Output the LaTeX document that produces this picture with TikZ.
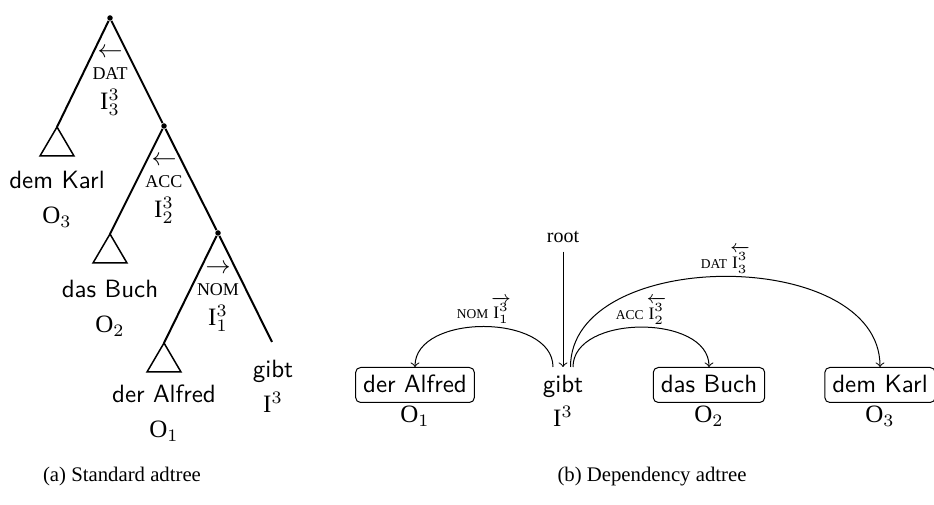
\documentclass[tikz,border=0pt]{standalone}
\usepackage{fontspec}
\setmainfont{Liberation Serif}
\usepackage{amsmath}
\usetikzlibrary{positioning}

\newcommand{\cas}[1]{{\fontsize{7.2}{8}\selectfont #1}}
\newcommand{\depcas}[1]{{\fontsize{5.4}{6}\selectfont #1}}

\begin{document}
\begin{tikzpicture}[x=0.4pt,y=0.4pt]
\useasboundingbox (0,0) rectangle (934,-505);

      % standard adtree
      \begin{scope}[every node/.style={circle,fill,inner sep=0pt,minimum size=2.2pt}]
        \node (r1) at (110,-18) {};
        \node (r2) at (164,-126) {};
        \node (r3) at (218,-233) {};
      \end{scope}
      \coordinate (k) at (57,-127);
      \coordinate (b) at (110,-234);
      \coordinate (a) at (164,-343);
      \coordinate (g) at (272,-342);

      \draw[thick] (k) -- (r1) -- (r2) -- (r3) -- (g);
      \draw[thick] (r2) -- (b);
      \draw[thick] (r3) -- (a);
      \foreach \t in {k,b,a}
        \draw[semithick] (\t) -- ++(-17,-29) -- ++(34,0) -- cycle;

      \begin{scope}[every node/.style={align=center,inner sep=0pt}]
        \node (l1) at (110,-82) {$\leftarrow$\\[-3.5pt]\cas{DAT}\\$\mathrm{I}^3_3$};
        \node (l2) at (164,-190) {$\leftarrow$\\[-3.5pt]\cas{ACC}\\$\mathrm{I}^3_2$};
        \node (l3) at (218,-298) {$\rightarrow$\\[-3.5pt]\cas{NOM}\\$\mathrm{I}^3_1$};
        \node (w3) at (57,-199) {\sffamily dem Karl\\[2pt]$\mathrm{O}_3$};
        \node (w2) at (110,-308) {\sffamily das Buch\\[2pt]$\mathrm{O}_2$};
        \node (w1) at (164,-413) {\sffamily der Alfred\\[2pt]$\mathrm{O}_1$};
        \node (w0) at (273,-386) {\sffamily gibt\\[2pt]$\mathrm{I}^3$};
      \end{scope}

      % dependency adtree
      \tikzset{word/.style={font=\sffamily,inner xsep=3pt,inner ysep=3pt,text height=7pt,text depth=1pt},
        wbox/.style={word,draw,rounded corners=2pt},
        idx/.style={inner sep=0pt}}
      \node[wbox] (d1) at (415,-385) {der Alfred};
      \node[word] (d0) at (563,-385) {gibt};
      \node[wbox] (d2) at (709,-385) {das Buch};
      \node[wbox] (d3) at (880,-385) {dem Karl};
      \node[idx,below=1pt of d1] (o1) {$\mathrm{O}_1$};
      \node[idx,below=1pt of d0] (o0) {$\mathrm{I}^3$};
      \node[idx,below=1pt of d2] (o2) {$\mathrm{O}_2$};
      \node[idx,below=1pt of d3] (o3) {$\mathrm{O}_3$};

      \node[font=\footnotesize] (root) at (563,-237) {root};
      \draw[->] (root) -- (d0);

      \begin{scope}[every node/.style={above,inner sep=1pt,font=\scriptsize}]
        \draw[->] ([xshift=-4pt]d0.north) to[out=90,in=90]
          node {\depcas{NOM}\,$\overrightarrow{\mathrm{I}^3_1}$} (d1.north);
        \draw[->] ([xshift=4pt]d0.north) to[out=90,in=90]
          node {\depcas{ACC}\,$\overleftarrow{\mathrm{I}^3_2}$} (d2.north);
        \draw[->] ([xshift=3pt]d0.north) to[out=90,in=90]
          node {\depcas{DAT}\,$\overleftarrow{\mathrm{I}^3_3}$} (d3.north);
      \end{scope}

      \begin{scope}[every node/.style={font=\fontsize{8.3}{10}\selectfont}]
        \node (ca) at (122,-477) {(a) Standard adtree};
        \node (cb) at (652,-477) {(b) Dependency adtree};
      \end{scope}

    \end{tikzpicture}
\end{document}
